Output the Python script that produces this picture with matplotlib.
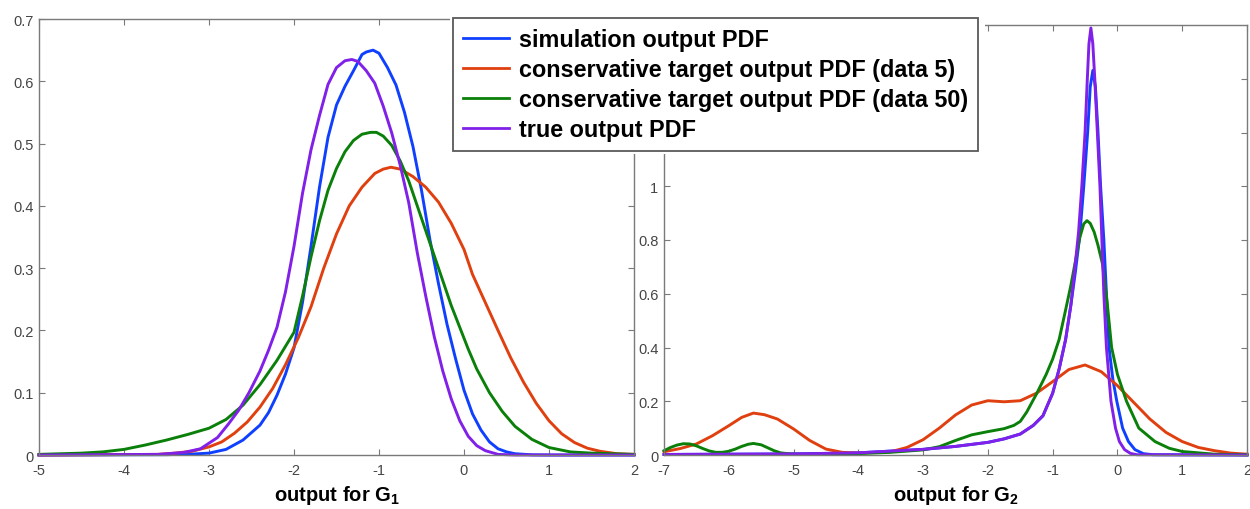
import matplotlib
matplotlib.use("Agg")
import matplotlib.pyplot as plt
from matplotlib.patches import Rectangle
from matplotlib.lines import Line2D

plt.rcParams['font.family'] = ['Liberation Sans', 'DejaVu Sans']
plt.rcParams['mathtext.fontset'] = 'custom'
plt.rcParams['mathtext.rm'] = 'Liberation Sans'
plt.rcParams['mathtext.bf'] = 'Liberation Sans:bold'

# ---------------- series labels and colours ----------------
labels = ["simulation output PDF",
          "conservative target output PDF (data 5)",
          "conservative target output PDF (data 50)",
          "true output PDF"]
colors = ["#1040FF", "#E0400F", "#0A800A", "#8020E8"]

# ---------------- output for G1 ----------------
g1_sim_x = [-5.0, -3.5, -3.2, -3.0, -2.8, -2.6, -2.4, -2.3, -2.2, -2.1, -2.0, -1.9, -1.8,
            -1.7, -1.6, -1.5, -1.4, -1.3, -1.2, -1.15, -1.07, -1.0, -0.9, -0.8, -0.7,
            -0.6, -0.5, -0.4, -0.3, -0.2, -0.1, 0.0, 0.1, 0.2, 0.3, 0.4, 0.5, 0.6, 0.8,
            1.0, 2.0]
g1_sim_y = [0.0, 0.0005, 0.0015, 0.003, 0.009, 0.024, 0.048, 0.068, 0.096, 0.13, 0.172, 0.245, 0.335,
            0.43, 0.51, 0.562, 0.592, 0.617, 0.643, 0.647, 0.65, 0.645, 0.622, 0.594, 0.55,
            0.495, 0.425, 0.345, 0.275, 0.21, 0.155, 0.104, 0.066, 0.04, 0.021, 0.01, 0.005, 0.002, 0.0003,
            0.0, 0.0]

g1_d5_x = [-5.0, -3.6, -3.4, -3.2, -3.0, -2.85, -2.7, -2.55, -2.4, -2.25, -2.1, -1.95, -1.8,
           -1.65, -1.5, -1.35, -1.2, -1.05, -0.95, -0.86, -0.75, -0.6, -0.45, -0.3, -0.15,
           0.0, 0.1, 0.25, 0.4, 0.55, 0.7, 0.85, 1.0, 1.15, 1.3, 1.45, 1.6, 1.8, 2.0]
g1_d5_y = [0.0, 0.001, 0.003, 0.006, 0.013, 0.021, 0.035, 0.053, 0.077, 0.107, 0.145, 0.188, 0.238,
           0.3, 0.355, 0.4, 0.43, 0.452, 0.459, 0.462, 0.459, 0.447, 0.43, 0.406, 0.372,
           0.33, 0.29, 0.245, 0.2, 0.156, 0.117, 0.083, 0.055, 0.034, 0.02, 0.011, 0.006, 0.002, 0.001]

g1_d50_x = [-5.0, -4.5, -4.25, -4.0, -3.75, -3.5, -3.25, -3.0, -2.8, -2.6, -2.4, -2.2, -2.0,
            -1.9, -1.8, -1.7, -1.6, -1.5, -1.4, -1.3, -1.2, -1.1, -1.03, -0.95, -0.85,
            -0.75, -0.65, -0.55, -0.45, -0.35, -0.25, -0.15, -0.05, 0.05, 0.15, 0.3, 0.45,
            0.6, 0.8, 1.0, 1.25, 1.5, 2.0]
g1_d50_y = [0.001, 0.003, 0.005, 0.009, 0.016, 0.024, 0.033, 0.043, 0.057, 0.08, 0.113, 0.152, 0.197,
            0.255, 0.318, 0.376, 0.425, 0.46, 0.487, 0.505, 0.515, 0.518, 0.518, 0.512, 0.497,
            0.472, 0.44, 0.4, 0.36, 0.32, 0.28, 0.24, 0.205, 0.17, 0.138, 0.1, 0.07,
            0.046, 0.025, 0.012, 0.005, 0.003, 0.001]

g1_true_x = [-5.0, -3.6, -3.3, -3.1, -2.9, -2.77, -2.65, -2.53, -2.4, -2.3, -2.2, -2.1, -2.0,
             -1.9, -1.8, -1.7, -1.6, -1.5, -1.4, -1.32, -1.25, -1.15, -1.05, -0.95, -0.85,
             -0.75, -0.65, -0.55, -0.45, -0.35, -0.25, -0.15, -0.05, 0.05, 0.15, 0.25, 0.4,
             0.6, 2.0]
g1_true_y = [0.0, 0.001, 0.004, 0.01, 0.028, 0.05, 0.072, 0.1, 0.135, 0.168, 0.205, 0.262, 0.335,
             0.42, 0.49, 0.545, 0.595, 0.622, 0.633, 0.635, 0.632, 0.617, 0.597, 0.56, 0.517,
             0.465, 0.405, 0.325, 0.255, 0.19, 0.135, 0.09, 0.055, 0.03, 0.015, 0.007, 0.001,
             0.0, 0.0]

# ---------------- output for G2 ----------------
g2_sim_x = [-7.0, -6.0, -5.0, -4.0, -3.0, -2.5, -2.0, -1.75, -1.5, -1.3, -1.15, -1.0, -0.9,
            -0.8, -0.72, -0.65, -0.58, -0.52, -0.46, -0.42, -0.38, -0.34, -0.30, -0.26,
            -0.21, -0.17, -0.13, -0.07, -0.01, 0.08, 0.17, 0.27, 0.4, 0.55, 2.0]
g2_sim_y = [0.002, 0.003, 0.004, 0.008, 0.021, 0.032, 0.047, 0.06, 0.078, 0.11, 0.146, 0.23, 0.32,
            0.43, 0.556, 0.68, 0.82, 1.0, 1.2, 1.37, 1.431, 1.37, 1.2, 1.0,
            0.8, 0.6, 0.4, 0.28, 0.2, 0.1, 0.05, 0.02, 0.005, 0.001, 0.0]

g2_d5_x = [-7.0, -6.75, -6.5, -6.25, -6.0, -5.8, -5.62, -5.45, -5.25, -5.0, -4.75, -4.5, -4.25,
           -4.0, -3.5, -3.25, -3.0, -2.75, -2.5, -2.25, -2.0, -1.75, -1.5, -1.25, -1.0, -0.75,
           -0.5, -0.25, 0.0, 0.25, 0.5, 0.75, 1.0, 1.25, 1.5, 1.75, 2.0]
g2_d5_y = [0.012, 0.024, 0.041, 0.072, 0.109, 0.14, 0.156, 0.15, 0.134, 0.097, 0.054, 0.022, 0.010,
           0.007, 0.012, 0.028, 0.057, 0.1, 0.149, 0.186, 0.202, 0.198, 0.202, 0.23, 0.273, 0.318,
           0.335, 0.31, 0.258, 0.196, 0.134, 0.084, 0.05, 0.028, 0.016, 0.007, 0.003]

g2_d50_x = [-7.0, -6.9, -6.8, -6.7, -6.6, -6.5, -6.4, -6.3, -6.2, -6.1, -6.0, -5.9, -5.8,
            -5.7, -5.62, -5.5, -5.4, -5.3, -5.2, -5.05, -4.8, -4.5, -4.0, -3.5, -3.0, -2.75,
            -2.5, -2.25, -2.0, -1.75, -1.6, -1.5, -1.4, -1.25, -1.1, -1.0, -0.9, -0.8, -0.72,
            -0.65, -0.58, -0.52, -0.47, -0.42, -0.36, -0.3, -0.23, -0.16, -0.09, 0.0, 0.14,
            0.33, 0.58, 0.8, 1.0, 1.5, 2.0]
g2_d50_y = [0.016, 0.028, 0.037, 0.042, 0.041, 0.034, 0.024, 0.015, 0.01, 0.01, 0.014, 0.022, 0.032,
            0.04, 0.043, 0.038, 0.027, 0.016, 0.008, 0.004, 0.002, 0.003, 0.005, 0.01, 0.019, 0.031,
            0.054, 0.075, 0.087, 0.098, 0.11, 0.125, 0.16, 0.227, 0.3, 0.357, 0.43, 0.54, 0.63,
            0.72, 0.81, 0.86, 0.872, 0.862, 0.83, 0.78, 0.71, 0.57, 0.4, 0.3, 0.2,
            0.1, 0.05, 0.025, 0.013, 0.003, 0.001]

g2_true_x = [-7.0, -6.0, -5.0, -4.0, -3.0, -2.5, -2.0, -1.75, -1.5, -1.3, -1.15, -1.0, -0.9,
             -0.8, -0.72, -0.66, -0.6, -0.55, -0.5, -0.465, -0.44, -0.41, -0.38, -0.35, -0.31,
             -0.27, -0.24, -0.21, -0.17, -0.1, -0.03, 0.03, 0.11, 0.2, 0.3, 2.0]
g2_true_y = [0.002, 0.003, 0.004, 0.008, 0.021, 0.032, 0.047, 0.06, 0.078, 0.11, 0.146, 0.23, 0.32,
             0.43, 0.556, 0.69, 0.83, 1.0, 1.2, 1.4, 1.53, 1.589, 1.53, 1.4, 1.2,
             1.0, 0.8, 0.6, 0.4, 0.2, 0.1, 0.05, 0.02, 0.006, 0.001, 0.0]

g1_xticks = [-5, -4, -3, -2, -1, 0, 1, 2]
g1_yticks = [0, 0.1, 0.2, 0.3, 0.4, 0.5, 0.6, 0.7]
g2_xticks = [-7, -6, -5, -4, -3, -2, -1, 0, 1, 2]
g2_yticks = [0, 0.2, 0.4, 0.6, 0.8, 1, 1.2, 1.4]
g2_ylabels = ["0", "0.2", "0.4", "0.6", "0.8", "1", "", ""]  # upper two sit under the legend panel

# ---------------- figure ----------------
W, H = 1250, 510
fig = plt.figure(figsize=(W / 100, H / 100), dpi=100)
fig.patch.set_facecolor("white")


def px_axes(x0, x1, y_top, y_bot):
    return fig.add_axes([x0 / W, 1 - y_bot / H, (x1 - x0) / W, (y_bot - y_top) / H])


ax1 = px_axes(39, 634, 20, 456)
ax2 = px_axes(664, 1247, 26, 456)

spine_col = "#7a7a7a"
tick_col = "#454545"


def style(ax, xt, yt, ylabels, xlim, ylim, xlabel):
    ax.set_xlim(*xlim)
    ax.set_ylim(*ylim)
    ax.set_xticks(xt)
    ax.set_yticks(yt)
    ax.set_xticklabels([f"{v:g}" for v in xt])
    ax.set_yticklabels(ylabels)
    for s in ax.spines.values():
        s.set_color(spine_col)
        s.set_linewidth(1.0)
    ax.tick_params(direction="in", length=4, width=0.8, color=spine_col,
                   labelcolor=tick_col, labelsize=10.5, top=True, right=True)
    ax.tick_params(axis="x", pad=6)
    ax.tick_params(axis="y", pad=4)
    ax.set_xlabel(xlabel, fontsize=14.5, fontweight="bold", color="black", labelpad=4)


series1 = [(g1_sim_x, g1_sim_y), (g1_d5_x, g1_d5_y), (g1_d50_x, g1_d50_y), (g1_true_x, g1_true_y)]
series2 = [(g2_sim_x, g2_sim_y), (g2_d5_x, g2_d5_y), (g2_d50_x, g2_d50_y), (g2_true_x, g2_true_y)]

for (x, y), c in zip(series1, colors):
    ax1.plot(x, y, color=c, lw=2.1, solid_joinstyle="round", clip_on=False)
for (x, y), c in zip(series2, colors):
    ax2.plot(x, y, color=c, lw=2.1, solid_joinstyle="round", clip_on=False)

style(ax1, g1_xticks, g1_yticks, [f"{v:g}" for v in g1_yticks], (-5, 2), (0, 0.7),
      r"output for G$_{\mathbf{1}}$")
style(ax2, g2_xticks, g2_yticks, g2_ylabels, (-7, 2), (0, 1.6),
      r"output for G$_{\mathbf{2}}$")

# white panel behind the legend
fig.add_artist(Rectangle((450 / W, 1 - 155 / H), 535 / W, 155 / H,
                         transform=fig.transFigure, facecolor="white",
                         edgecolor="none", zorder=8))

handles = [Line2D([], [], color=c, lw=2.0) for c in colors]
leg = fig.legend(handles, labels, loc="upper left",
                 bbox_to_anchor=(453 / W, 1 - 19 / H), bbox_transform=fig.transFigure,
                 borderaxespad=0, frameon=True, fancybox=False,
                 prop={"family": "Liberation Sans", "weight": "bold", "size": 16.8},
                 handlelength=2.0, handletextpad=0.42, labelspacing=0.3,
                 borderpad=0.42)
leg.set_zorder(10)
leg.get_frame().set_edgecolor("#303030")
leg.get_frame().set_linewidth(1.3)

fig.savefig("out.png", dpi=100, facecolor="white")
